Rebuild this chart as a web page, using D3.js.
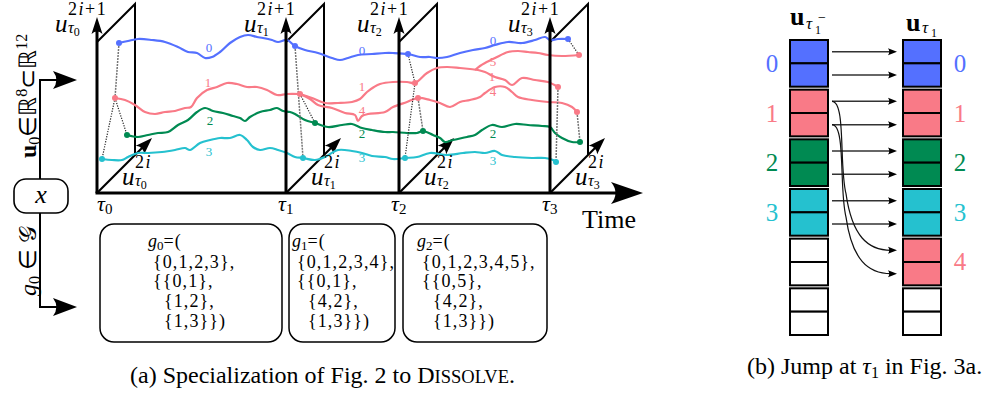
<!DOCTYPE html>
<html>
<head>
<meta charset="utf-8">
<script src="https://cdn.jsdelivr.net/npm/d3@7"></script>
<style>
  body { margin: 0; background: #fff; }
  svg { display: block; }
</style>
</head>
<body>
<div id="chart"></div>
<script>
// ---- data (t = time along the axis, u = value above the axis) ----
const tauTimes = [0, 189, 302, 453];
const tauNames = ['0', '1', '2', '3'];

const curve0 = [[22,150],[31,152],[41,154],[55,153],[68,151],[81,146],[91,141],[100,140],[108,135],[115,136],[123,141],[133,150],[143,156],[151,158],[160,156],[166,155],[175,153],[181,151],[190,153],[198,147],[208,143],[221,140],[235,135],[243,133],[251,135],[261,138],[275,139],[288,140],[296,140],[311,139],[323,136],[333,136],[340,135],[350,136],[363,140],[376,143],[388,145],[398,148],[411,151],[425,150],[438,153],[448,156],[453,153],[461,154],[471,154]];
const curve1a = [[18,95],[28,93],[38,88],[48,81],[58,79],[68,81],[78,82],[88,85],[94,86],[100,95],[110,103],[120,106],[130,110],[140,109],[150,106],[160,106],[170,103],[180,98],[190,99],[203,99]];
const curve1b = [[203,99],[215,95],[228,90],[241,90],[255,91],[263,94],[270,101],[277,106],[283,109],[296,111],[310,111],[318,110],[330,120],[340,125],[350,126],[363,125],[373,124],[381,123],[388,121],[398,116],[408,113],[415,108],[425,115],[438,113],[451,111],[461,106]];
const curve4 = [[203,99],[213,94],[221,88],[235,85],[248,80],[258,78],[261,72],[265,77],[271,79],[288,81],[296,86],[310,91],[321,95],[333,93],[343,90],[353,86],[363,91],[373,93],[383,96],[388,100],[398,106],[408,106],[415,101],[421,96],[435,93],[451,91],[465,90],[475,86],[480,81]];
const curve5 = [[378,123],[383,127],[388,130],[398,135],[411,141],[421,142],[431,141],[441,140],[451,138],[465,137],[482,138]];
const curve2 = [[30,58],[41,56],[51,58],[61,60],[71,61],[81,68],[91,73],[100,81],[108,85],[116,82],[126,80],[136,77],[143,75],[148,72],[153,76],[163,81],[173,83],[180,85],[186,82],[193,81],[198,79],[208,73],[218,70],[231,66],[245,68],[255,69],[265,65],[275,63],[288,61],[296,61],[310,60],[320,60],[326,62],[336,58],[343,55],[348,51],[356,53],[370,56],[378,58],[385,63],[395,68],[405,66],[418,69],[431,68],[445,67],[453,66],[458,60],[465,55],[475,51],[483,51]];
const curve3 = [[5,34],[15,33],[25,33],[31,36],[41,40],[51,40],[65,41],[78,43],[88,45],[93,43],[103,50],[113,53],[123,55],[133,55],[143,58],[150,53],[156,46],[163,43],[173,45],[181,43],[190,40],[198,36],[206,35],[218,33],[228,36],[241,43],[255,42],[265,40],[275,37],[288,36],[296,34],[308,35],[320,36],[333,40],[350,38],[366,40],[378,41],[388,40],[398,42],[405,38],[418,36],[435,35],[448,35],[456,33],[459,31]];

const dots = [
  [22,150,'b'],[18,95,'p'],[30,58,'g'],[5,34,'c'],
  [198,147,'b'],[203,99,'p'],[218,70,'g'],[206,35,'c'],
  [311,139,'b'],[318,110,'p'],[321,95,'p'],[326,62,'g'],[308,35,'c'],
  [471,154,'b'],[482,138,'p'],[461,106,'p'],[480,81,'p'],[483,51,'g'],[459,31,'c']
];
const links = [
  [22,150,18,95,'grey'],[18,95,5,34,'dot'],[18,95,30,58,'dot'],
  [198,147,206,35,'grey'],[203,99,218,70,'dot'],
  [311,139,318,110,'dot'],[318,110,308,35,'dot'],[321,95,326,62,'grey'],
  [471,154,482,138,'dot'],[461,106,459,31,'grey'],[480,81,483,51,'grey']
];
const curveLabels = [
  [112,146,'0','b'],[111,111,'1','p'],[113,73,'2','g'],[112,42,'3','c'],
  [265,143,'0','b'],[265,107,'1','p'],[265,83,'4','p'],[265,60,'2','g'],[265,36,'3','c'],
  [396,153,'0','b'],[396,132,'5','p'],[395,117,'1','p'],[396,102,'4','p'],[396,60,'2','g'],[396,33,'3','c']
];

const gBoxTexts = [
  ['0', ['{0,1,2,3},', '{{0,1},', '{1,2},', '{1,3}})']],
  ['1', ['{0,1,2,3,4},', '{{0,1},', '{4,2},', '{1,3}})']],
  ['2', ['{0,1,2,3,4,5},', '{{0,5},', '{4,2},', '{1,3}})']]
];

// jump panel
const blocksBefore = [0, 1, 2, 3, null, null];
const blocksAfter = [0, 1, 2, 3, 4, null];
const moves = [[0,0],[1,1],[2,2],[3,3],[4,4],[5,5],[6,6],[7,7],[2,8],[3,9]];

const colors = { b: '#5470ff', p: '#f97a87', g: '#008a52', c: '#25c1cf' };
const blockColor = ['b', 'p', 'g', 'c', 'p'];

// ---- drawing ----
const W = 989, H = 397;
const svg = d3.select('#chart').append('svg').attr('width', W).attr('height', H);
const serif = "'Liberation Serif', 'Times New Roman', serif";

const x = d3.scaleLinear().domain([0, 546]).range([97, 643]);
const y = d3.scaleLinear().domain([0, 188]).range([193, 5]);
const depth = 38;

function arrowHead(g, tx, ty, angle, len, half) {
  g.append('path')
    .attr('d', `M0,0 L${-len},${-half} Q${-len * 0.72},0 ${-len},${half} Z`)
    .attr('transform', `translate(${tx},${ty}) rotate(${angle})`)
    .attr('fill', '#000');
}

const planes = svg.append('g');
const curves = svg.append('g');
const front = svg.append('g');

// planes
tauTimes.forEach(t => {
  planes.append('path')
    .attr('d', `M${x(t)},${y(151)} L${x(t + depth)},${y(151 + depth)} L${x(t + depth)},${y(depth)}`)
    .attr('fill', 'none').attr('stroke', '#000').attr('stroke-width', 2);
  planes.append('line')
    .attr('x1', x(t)).attr('y1', y(0))
    .attr('x2', x(t + 49)).attr('y2', y(49))
    .attr('stroke', '#000').attr('stroke-width', 2.2);
  arrowHead(planes, x(t + 55), y(55), -45, 17, 6);
});

// curves
const line = d3.line().x(d => x(d[0])).y(d => y(d[1])).curve(d3.curveCatmullRom.alpha(0.5));
[[curve0,'b'],[curve1a,'p'],[curve1b,'p'],[curve4,'p'],[curve5,'p'],[curve2,'g'],[curve3,'c']].forEach(([pts, k]) => {
  curves.append('path').attr('d', line(pts))
    .attr('fill', 'none').attr('stroke', colors[k]).attr('stroke-width', 2.2)
    .attr('stroke-linejoin', 'round');
});

links.forEach(([t1, u1, t2, u2, kind]) => {
  curves.append('line')
    .attr('x1', x(t1)).attr('y1', y(u1)).attr('x2', x(t2)).attr('y2', y(u2))
    .attr('stroke', kind === 'grey' ? '#777' : '#222')
    .attr('stroke-width', kind === 'grey' ? 1.5 : 1.2)
    .attr('stroke-dasharray', kind === 'grey' ? '2,1' : '1.2,1.4');
});

curves.selectAll('circle.dot').data(dots).enter().append('circle')
  .attr('cx', d => x(d[0])).attr('cy', d => y(d[1])).attr('r', 3)
  .attr('fill', d => colors[d[2]]);

curves.selectAll('text.lbl').data(curveLabels).enter().append('text')
  .attr('x', d => x(d[0])).attr('y', d => y(d[1]) + 4.5)
  .attr('text-anchor', 'middle')
  .attr('font-family', serif).attr('font-size', 13)
  .attr('fill', d => colors[d[3]])
  .text(d => d[2]);

// vertical axes + time axis
tauTimes.forEach(t => {
  front.append('line')
    .attr('x1', x(t)).attr('y1', y(0)).attr('x2', x(t)).attr('y2', y(164))
    .attr('stroke', '#000').attr('stroke-width', 3);
  arrowHead(front, x(t), y(176), -90, 17, 5.5);
});
front.append('line')
  .attr('x1', x(0) - 1.5).attr('y1', y(0)).attr('x2', x(520)).attr('y2', y(0))
  .attr('stroke', '#000').attr('stroke-width', 3);
arrowHead(front, x(546), y(0), 0, 32, 11);

// math labels: base u with stacked superscript and subscript
function mathLabel(g, xb, yb, sup, k) {
  g.append('text').attr('x', xb).attr('y', yb).attr('font-family', serif)
    .attr('font-size', 25).attr('font-style', 'italic').text('u');
  const s = g.append('text').attr('x', xb + 13).attr('y', yb - 17).attr('font-family', serif)
    .attr('font-size', 18).attr('letter-spacing', 1.5);
  s.append('tspan').text('2');
  s.append('tspan').attr('font-style', 'italic').text('i');
  if (sup) s.append('tspan').text('+1');
  const b = g.append('text').attr('x', xb + 13).attr('y', yb + 1).attr('font-family', serif);
  b.append('tspan').attr('font-size', 16).attr('font-style', 'italic').text('τ');
  b.append('tspan').attr('dy', 3).attr('font-size', 12).text(k);
}
tauTimes.forEach((t, i) => {
  mathLabel(front, x(t) - 42, 32, true, tauNames[i]);
  mathLabel(front, x(t) + 25, 185, false, tauNames[i]);
  const tl = front.append('text').attr('font-family', serif).attr('x', x(t) + (i === 0 ? 0 : -8)).attr('y', 211);
  tl.append('tspan').attr('font-size', 22).attr('font-style', 'italic').text('τ');
  tl.append('tspan').attr('font-size', 15).attr('dy', 3).text(tauNames[i]);
});
front.append('text').attr('x', 582).attr('y', 228).attr('font-family', serif).attr('font-size', 26).text('Time');

// left side: x box and two arrows
const left = svg.append('g');
left.append('rect').attr('x', 14).attr('y', 179).attr('width', 54).attr('height', 34).attr('rx', 12)
  .attr('fill', 'none').attr('stroke', '#000').attr('stroke-width', 1.6);
left.append('text').attr('x', 41).attr('y', 203).attr('text-anchor', 'middle')
  .attr('font-family', serif).attr('font-size', 26).attr('font-style', 'italic').text('x');
left.append('path').attr('d', 'M40,179 V80 H60').attr('fill', 'none').attr('stroke', '#000').attr('stroke-width', 2);
arrowHead(left, 77, 80, 0, 24, 9);
left.append('path').attr('d', 'M40,213 V307 H60').attr('fill', 'none').attr('stroke', '#000').attr('stroke-width', 2);
arrowHead(left, 77, 307, 0, 24, 9);

const r1 = left.append('text').attr('transform', 'translate(36,158) rotate(-90)').attr('font-family', serif).attr('font-size', 24);
r1.append('tspan').attr('font-weight', 'bold').text('u');
r1.append('tspan').attr('font-size', 16).attr('dy', 4).text('0');
r1.append('tspan').attr('dy', -4).text('∈ℝ');
r1.append('tspan').attr('font-size', 16).attr('dy', -9).text('8');
r1.append('tspan').attr('dy', 9).text('⊂ℝ');
r1.append('tspan').attr('font-size', 16).attr('dy', -9).text('12');

const r2 = left.append('text').attr('transform', 'translate(36,296) rotate(-90)').attr('font-family', serif).attr('font-size', 24);
r2.append('tspan').attr('font-style', 'italic').text('g');
r2.append('tspan').attr('font-size', 16).attr('dy', 4).text('0');
r2.append('tspan').attr('dy', -4).text(' ∈ ');
r2.append('tspan').text('𝒢');

// g boxes
const boxes = [[100, 282, 148], [289, 395, 292], [403, 547, 417]];
const baselines = [247, 268, 287, 307, 327];
gBoxTexts.forEach(([k, lines], i) => {
  const [x0, x1, tx] = boxes[i];
  svg.append('rect').attr('x', x0).attr('y', 224).attr('width', x1 - x0).attr('height', 118).attr('rx', 14)
    .attr('fill', 'none').attr('stroke', '#000').attr('stroke-width', 1.5);
  const head = svg.append('text').attr('x', tx).attr('y', baselines[0]).attr('font-family', serif).attr('font-size', 18);
  head.append('tspan').attr('font-style', 'italic').text('g');
  head.append('tspan').attr('font-size', 13).attr('dy', 3).text(k);
  head.append('tspan').attr('dy', -3).attr('letter-spacing', 1).text('=(');
  lines.forEach((s, j) => {
    svg.append('text').attr('x', tx + (j < 2 ? 5 : 16)).attr('y', baselines[j + 1])
      .attr('font-family', serif).attr('font-size', 18).attr('letter-spacing', 1.1).text(s);
  });
});

// captions
const capA = svg.append('text').attr('x', 130).attr('y', 383).attr('font-family', serif).attr('font-size', 24);
capA.append('tspan').text('(a) Specialization of Fig. 2 to D');
capA.append('tspan').attr('font-size', 18.5).text('ISSOLVE');
capA.append('tspan').text('.');
const capB = svg.append('text').attr('x', 747).attr('y', 374).attr('font-family', serif).attr('font-size', 24);
capB.append('tspan').text('(b) Jump at ');
capB.append('tspan').attr('font-style', 'italic').text('τ');
capB.append('tspan').attr('font-size', 16).attr('dy', 4).text('1');
capB.append('tspan').attr('dy', -4).text(' in Fig. 3a.');

// ---- jump panel ----
const jp = svg.append('g');
const yBlock = d3.scaleBand().domain(d3.range(6)).range([40, 335]).paddingInner(0.06);
const bw = yBlock.bandwidth();
const cellY = c => yBlock(Math.floor(c / 2)) + bw * ((c % 2) + 0.5) / 2;
const cols = [[790, blocksBefore, 772], [903, blocksAfter, 960]];
const colW = 38;

cols.forEach(([cx, blocks, lx]) => {
  blocks.forEach((k, i) => {
    const fill = k === null ? '#fff' : colors[blockColor[k]];
    [0, 1].forEach(h => {
      jp.append('rect').attr('x', cx).attr('y', yBlock(i) + h * bw / 2)
        .attr('width', colW).attr('height', bw / 2)
        .attr('fill', fill).attr('stroke', '#000').attr('stroke-width', 2);
    });
    if (k !== null) {
      jp.append('text').attr('x', lx).attr('y', yBlock(i) + bw / 2 + 8.5)
        .attr('text-anchor', 'middle').attr('font-family', serif).attr('font-size', 25)
        .attr('fill', colors[blockColor[k]]).text(k);
    }
  });
});

moves.forEach(([a, b]) => {
  const y0 = cellY(a), y1 = cellY(b), xs = 832, xe = 897;
  if (a === b) {
    jp.append('line').attr('x1', xs).attr('y1', y0).attr('x2', xe - 6).attr('y2', y1)
      .attr('stroke', '#333').attr('stroke-width', 1.5);
  } else {
    const my = y0 + (y1 - y0) * 0.62;
    jp.append('path')
      .attr('d', `M${xs},${y0} C${xs + 14},${y0} ${xs + 7},${y0 + 65} ${xs + 14},${my} C${xs + 20},${y1 - 14} ${xs + 36},${y1} ${xe - 6},${y1}`)
      .attr('fill', 'none').attr('stroke', '#111').attr('stroke-width', 1.2);
  }
  arrowHead(jp, xe, y1, 0, 9, 3.5);
});

const tL = jp.append('text').attr('font-family', serif);
tL.append('tspan').attr('x', 790).attr('y', 25).attr('font-size', 26).attr('font-weight', 'bold').text('u');
tL.append('tspan').attr('x', 806).attr('y', 29).attr('font-size', 17).attr('font-style', 'italic').text('τ');
tL.append('tspan').attr('x', 815).attr('y', 34).attr('font-size', 12).text('1');
tL.append('tspan').attr('x', 818).attr('y', 22).attr('font-size', 14).text('−');
const tR = jp.append('text').attr('font-family', serif);
tR.append('tspan').attr('x', 906).attr('y', 31).attr('font-size', 26).attr('font-weight', 'bold').text('u');
tR.append('tspan').attr('x', 922).attr('y', 33).attr('font-size', 17).attr('font-style', 'italic').text('τ');
tR.append('tspan').attr('x', 931).attr('y', 37).attr('font-size', 12).text('1');
</script>
</body>
</html>
